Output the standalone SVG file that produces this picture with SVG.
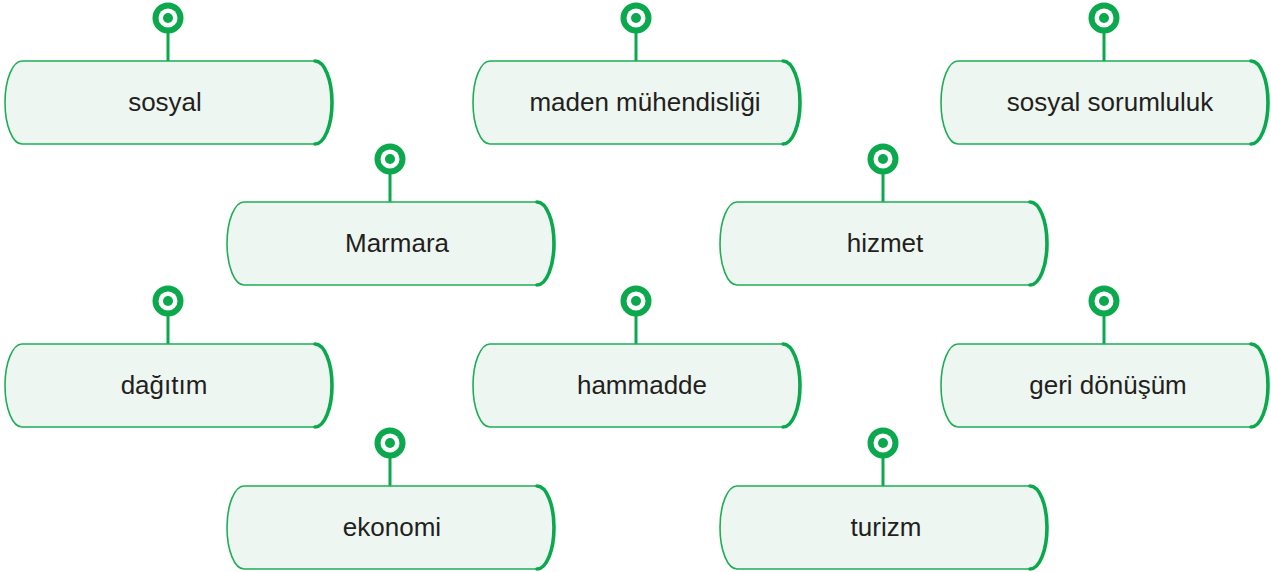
<svg xmlns="http://www.w3.org/2000/svg" xmlns:xlink="http://www.w3.org/1999/xlink" width="1271" height="572" viewBox="0 0 1271 572">
<style>
.box{fill:#EEF6F1;stroke:#1FAE57;stroke-width:1.6}
.cap{fill:none;stroke:#0BA84E;stroke-width:3.6;stroke-linecap:round}
.stem{stroke:#0BA84E;stroke-width:3}
.lbl{font-family:"Liberation Sans",Arial,sans-serif;font-size:26px;fill:#231F20;text-anchor:middle}
</style>
<defs>
<g id="shape">
<path class="box" d="M17,0 H310 A17 41.5 0 0 1 310,83 H17 A17 41.5 0 0 1 17,0 Z"/>
<path class="cap" d="M310,0 A17 41.5 0 0 1 310,83"/>
<circle cx="163" cy="-43" r="15.5" fill="#0BA84E"/>
<circle cx="163" cy="-43" r="9.5" fill="#ffffff"/>
<circle cx="163" cy="-43" r="5" fill="#0BA84E"/>
</g>
</defs>
<g id="connectors">
<line class="stem" x1="168" y1="33" x2="168" y2="61"/>
<line class="stem" x1="636" y1="33" x2="636" y2="61"/>
<line class="stem" x1="1104" y1="33" x2="1104" y2="61"/>
<line class="stem" x1="390" y1="174" x2="390" y2="202"/>
<line class="stem" x1="883" y1="174" x2="883" y2="202"/>
<line class="stem" x1="168" y1="316" x2="168" y2="344"/>
<line class="stem" x1="636" y1="316" x2="636" y2="344"/>
<line class="stem" x1="1104" y1="316" x2="1104" y2="344"/>
<line class="stem" x1="390" y1="458" x2="390" y2="486"/>
<line class="stem" x1="883" y1="458" x2="883" y2="486"/>
</g>
<g id="node-sosyal" transform="translate(5,61)"><use xlink:href="#shape"/><text class="lbl" x="160" y="50">sosyal</text></g>
<g id="node-maden" transform="translate(473,61)"><use xlink:href="#shape"/><text class="lbl" x="172" y="50">maden mühendisliği</text></g>
<g id="node-sosyal-sorumluluk" transform="translate(941,61)"><use xlink:href="#shape"/><text class="lbl" x="169" y="50">sosyal sorumluluk</text></g>
<g id="node-marmara" transform="translate(227,202)"><use xlink:href="#shape"/><text class="lbl" x="170" y="50">Marmara</text></g>
<g id="node-hizmet" transform="translate(720,202)"><use xlink:href="#shape"/><text class="lbl" x="165" y="50">hizmet</text></g>
<g id="node-dagitim" transform="translate(5,344)"><use xlink:href="#shape"/><text class="lbl" x="159" y="50">dağıtım</text></g>
<g id="node-hammadde" transform="translate(473,344)"><use xlink:href="#shape"/><text class="lbl" x="169" y="50">hammadde</text></g>
<g id="node-geri-donusum" transform="translate(941,344)"><use xlink:href="#shape"/><text class="lbl" x="167" y="50">geri dönüşüm</text></g>
<g id="node-ekonomi" transform="translate(227,486)"><use xlink:href="#shape"/><text class="lbl" x="165" y="50">ekonomi</text></g>
<g id="node-turizm" transform="translate(720,486)"><use xlink:href="#shape"/><text class="lbl" x="166" y="50">turizm</text></g>
</svg>
